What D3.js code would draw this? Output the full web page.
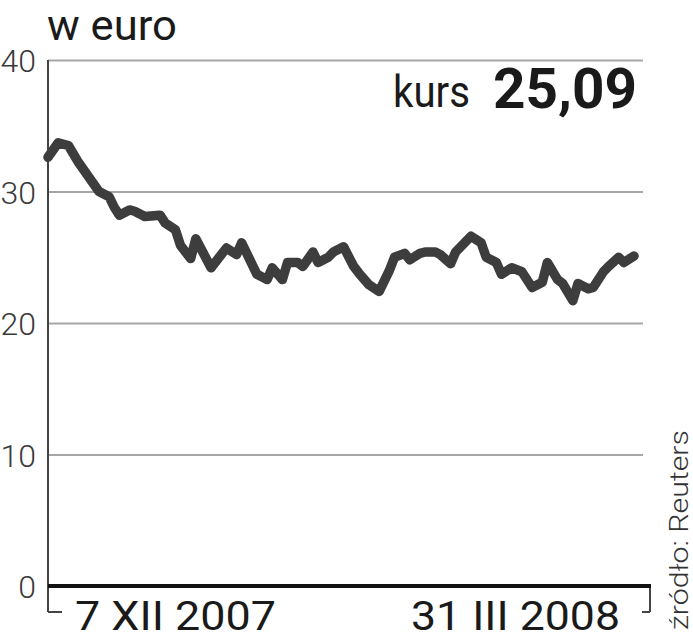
<!DOCTYPE html>
<html><head><meta charset="utf-8">
<script src="https://cdn.jsdelivr.net/npm/d3@7/dist/d3.min.js"></script>
<style>body{margin:0;background:#fff}svg{display:block}</style>
</head><body><svg id="c" width="693" height="640"></svg>
<script>
// days after 7 XII 2007
const dayOffsets = [0,2,4,6,8,10,12,13,14,16,17,19,22,23,25,26,28,29,32,35,37,38,41,43,44,46,47,49,50,52,53,55,56,58,60,61,63,65,67,68,70,71,73,74,76,77,79,80,83,85,86,88,89,91,93,95,97,98,100,101,103,104,106,107,109,110,112,113,115];
const prices = [32.6,33.7,33.5,32.2,31.1,30.0,29.6,28.8,28.2,28.6,28.5,28.1,28.2,27.6,27.1,25.9,24.9,26.4,24.2,25.7,25.2,26.1,23.7,23.3,24.2,23.3,24.6,24.6,24.3,25.4,24.6,25.0,25.4,25.8,24.3,23.8,22.9,22.4,24.0,25.0,25.3,24.8,25.3,25.4,25.4,25.2,24.5,25.4,26.6,26.1,25.0,24.6,23.7,24.2,23.9,22.7,23.1,24.6,23.3,23.0,21.7,23.0,22.6,22.7,23.9,24.3,25.0,24.6,25.09];
const yTicks = [0,10,20,30,40];
const xLabels = ["7 XII 2007","31 III 2008"];
const unitLabel = "w euro";
const lastCaption = "kurs";
const lastValueText = "25,09";
const sourceText = "źródło: Reuters";

(function () {
const svg = d3.select("#c");
const font = "Roboto, 'DejaVu Sans', sans-serif";
const mLeft = 48, lineRight = 634, gridRight = 643, mTop = 60, mBottom = 586;

const x = d3.scaleLinear().domain([0, 115]).range([mLeft, lineRight]);
const y = d3.scaleLinear().domain([0, 40]).range([mBottom, mTop]);

// gridlines + tick labels
const yAxis = d3.axisLeft(y).tickValues(yTicks).tickSize(-(gridRight - mLeft)).tickPadding(12).tickFormat(d3.format("d"));
const ga = svg.append("g").attr("transform", `translate(${mLeft},0)`).call(yAxis);
ga.select(".domain").remove();
ga.selectAll(".tick line").attr("stroke", "#a6a6a6").attr("stroke-width", 2)
  .filter(d => d === 0).remove();
ga.selectAll(".tick text").attr("font-family", font).attr("font-weight", 300)
  .attr("font-size", 32).attr("fill", "#3a3a3a").attr("dy", "0.36em");

// y axis line + left bracket
svg.append("line").attr("x1", mLeft).attr("x2", mLeft).attr("y1", y(40)).attr("y2", mBottom + 26)
  .attr("stroke", "#444").attr("stroke-width", 2);
svg.append("line").attr("x1", mLeft).attr("x2", mLeft + 14).attr("y1", mBottom + 26).attr("y2", mBottom + 26)
  .attr("stroke", "#444").attr("stroke-width", 2);
// right bracket
svg.append("line").attr("x1", 650).attr("x2", 650).attr("y1", mBottom).attr("y2", mBottom + 26)
  .attr("stroke", "#444").attr("stroke-width", 2);
svg.append("line").attr("x1", 642).attr("x2", 650).attr("y1", mBottom + 26).attr("y2", mBottom + 26)
  .attr("stroke", "#444").attr("stroke-width", 2);
// baseline
svg.append("line").attr("x1", mLeft).attr("x2", 651).attr("y1", y(0)).attr("y2", y(0))
  .attr("stroke", "#111").attr("stroke-width", 4);

// price line
const line = d3.line().x((d, i) => x(dayOffsets[i])).y(d => y(d));
svg.append("path").datum(prices).attr("d", line).attr("fill", "none")
  .attr("stroke", "#3d3d3d").attr("stroke-width", 9.5)
  .attr("stroke-linejoin", "round").attr("stroke-linecap", "round");

// title
svg.append("text").attr("x", 47).attr("y", 40).text(unitLabel)
  .attr("font-family", font).attr("font-size", 42).attr("fill", "#1a1a1a")
  .attr("textLength", 130).attr("lengthAdjust", "spacingAndGlyphs");

// kurs label
svg.append("text").attr("x", 393).attr("y", 107).text(lastCaption)
  .attr("font-family", font).attr("font-size", 44).attr("fill", "#1a1a1a")
  .attr("textLength", 77).attr("lengthAdjust", "spacingAndGlyphs");
svg.append("text").attr("x", 493).attr("y", 108).text(lastValueText)
  .attr("font-family", font).attr("font-weight", 700).attr("font-size", 56).attr("fill", "#1a1a1a")
  .attr("textLength", 144).attr("lengthAdjust", "spacingAndGlyphs");

// x labels
svg.append("text").attr("x", 75).attr("y", 630).text(xLabels[0])
  .attr("font-family", font).attr("font-size", 40).attr("fill", "#1a1a1a")
  .attr("textLength", 201).attr("lengthAdjust", "spacingAndGlyphs");
svg.append("text").attr("x", 411).attr("y", 630).text(xLabels[1])
  .attr("font-family", font).attr("font-size", 40).attr("fill", "#1a1a1a")
  .attr("textLength", 209).attr("lengthAdjust", "spacingAndGlyphs");

// source
svg.append("text").attr("transform", "translate(688,630) rotate(-90)").text(sourceText)
  .attr("font-family", font).attr("font-weight", 300).attr("font-size", 26).attr("fill", "#333")
  .attr("textLength", 200).attr("lengthAdjust", "spacingAndGlyphs");
})();
</script></body></html>
